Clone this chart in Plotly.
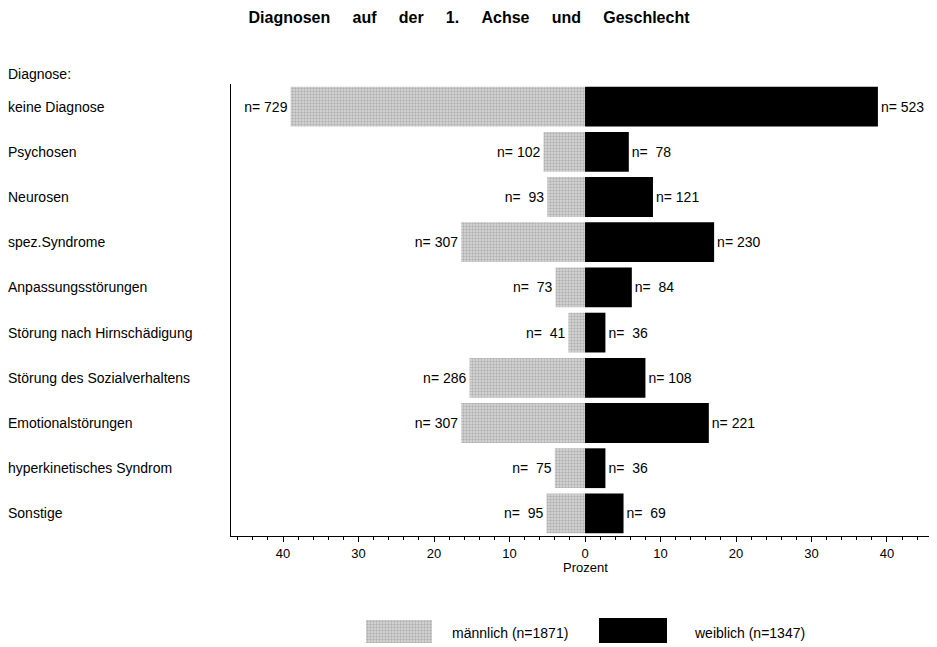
import plotly.graph_objects as go

# ---- data ----
categories = [
    "keine Diagnose", "Psychosen", "Neurosen", "spez.Syndrome",
    "Anpassungsstörungen", "Störung nach Hirnschädigung",
    "Störung des Sozialverhaltens", "Emotionalstörungen",
    "hyperkinetisches Syndrom", "Sonstige",
]
male_n = [729, 102, 93, 307, 73, 41, 286, 307, 75, 95]
female_n = [523, 78, 121, 230, 84, 36, 108, 221, 36, 69]
male_pct = [39.0, 5.5, 5.0, 16.4, 3.9, 2.2, 15.3, 16.4, 4.0, 5.1]
female_pct = [38.8, 5.8, 9.0, 17.1, 6.2, 2.7, 8.0, 16.4, 2.7, 5.1]
male_total = 1871
female_total = 1347
tick_values = [-40, -30, -20, -10, 0, 10, 20, 30, 40]
tick_labels = ["40", "30", "20", "10", "0", "10", "20", "30", "40"]

# page coordinates of the reference (the browser adds an 8px body margin)
OFF = 8
W, H = 937 - OFF, 647 - OFF
L, R, T = 231 - OFF, 930 - OFF, 84 - OFF
PLOT_BOTTOM = 536 - OFF
paper_w = R - L
paper_h = H - T


def px_x(p):
    return (p - OFF - L) / paper_w


def px_y(p):
    return (H - (p - OFF)) / paper_h


FONT = "Liberation Sans, Arial, sans-serif"
male_pattern = dict(shape=".", fgcolor="#8a8a8a", bgcolor="#d9d9d9",
                    size=3, solidity=0.5)


def fmt(n):
    return ("n=" + f"{n:>4}").replace(" ", "\u00a0")


fig = go.Figure()
fig.add_trace(go.Bar(
    y=categories, x=[-v for v in male_pct], orientation="h",
    marker=dict(color="#d9d9d9", pattern=male_pattern, line=dict(width=0)),
    text=[fmt(n) for n in male_n], textposition="outside",
    textfont=dict(size=14, color="black", family=FONT),
    constraintext="none", cliponaxis=False, showlegend=False,
    hoverinfo="skip",
))
fig.add_trace(go.Bar(
    y=categories, x=female_pct, orientation="h",
    marker=dict(color="black", line=dict(width=0)),
    text=[fmt(n) for n in female_n], textposition="outside",
    textfont=dict(size=14, color="black", family=FONT),
    constraintext="none", cliponaxis=False, showlegend=False,
    hoverinfo="skip",
))

# legend swatch (pattern) on a small helper axis
fig.add_trace(go.Bar(
    x=[1], y=[0], orientation="h", width=1, xaxis="x2", yaxis="y2",
    marker=dict(color="#d9d9d9", pattern=male_pattern, line=dict(width=0)),
    showlegend=False, hoverinfo="skip",
))

annotations = []
for c in categories:
    annotations.append(dict(
        x=px_x(6), xref="paper", y=c, yref="y", text=c, showarrow=False,
        xanchor="left", yanchor="middle",
        font=dict(size=14, color="black", family=FONT)))
annotations.append(dict(
    x=px_x(6), xref="paper", y=px_y(74), yref="paper", text="Diagnose:",
    showarrow=False, xanchor="left", yanchor="middle",
    font=dict(size=14, color="black", family=FONT)))
annotations.append(dict(
    x=px_x(585), xref="paper", y=px_y(567), yref="paper", text="Prozent",
    showarrow=False, xanchor="center", yanchor="middle",
    font=dict(size=13, color="black", family=FONT)))
annotations.append(dict(
    x=px_x(450), xref="paper", y=px_y(633), yref="paper",
    text=f"männlich (n={male_total})", showarrow=False, xanchor="left",
    yanchor="middle", font=dict(size=14, color="black", family=FONT)))
annotations.append(dict(
    x=px_x(692), xref="paper", y=px_y(633), yref="paper",
    text=f"weiblich (n={female_total})", showarrow=False, xanchor="left",
    yanchor="middle", font=dict(size=14, color="black", family=FONT)))

title_text = "\u00a0\u00a0\u00a0\u00a0\u00a0".join(
    "Diagnosen auf der 1. Achse und Geschlecht".split(" "))

fig.update_layout(
    width=W, height=H,
    margin=dict(l=L, r=W - R, t=T, b=0),
    paper_bgcolor="white", plot_bgcolor="white",
    barmode="overlay", bargap=0.12,
    font=dict(family=FONT, color="black"),
    title=dict(text="<b>" + title_text + "</b>", x=(469 - OFF) / W,
               xref="container", xanchor="center", y=1 - (17 - OFF) / H,
               yref="container", yanchor="middle",
               font=dict(size=16, color="black")),
    xaxis=dict(
        range=[-46.9, 45.7], tickvals=tick_values, ticktext=tick_labels,
        showgrid=False, zeroline=False,
        showline=True, linecolor="black", linewidth=1,
        ticks="outside", ticklen=5, tickcolor="black",
        minor=dict(dtick=2, tick0=0, ticks="outside", ticklen=3,
                   tickcolor="black", showgrid=False),
        tickfont=dict(size=13, color="black"), anchor="y",
    ),
    yaxis=dict(
        domain=[px_y(PLOT_BOTTOM + OFF), 1], autorange="reversed",
        showticklabels=False, showgrid=False, ticks="",
        showline=True, linecolor="black", linewidth=1, anchor="x",
    ),
    xaxis2=dict(domain=[px_x(366), px_x(432)], range=[0, 1], visible=False,
                anchor="y2", fixedrange=True),
    yaxis2=dict(domain=[px_y(643), px_y(620)], range=[-0.5, 0.5],
                visible=False, anchor="x2", fixedrange=True),
    shapes=[dict(type="rect", xref="paper", yref="paper",
                 x0=px_x(599), x1=px_x(667), y0=px_y(643), y1=px_y(618),
                 fillcolor="black", line=dict(width=0))],
    annotations=annotations,
)

fig.write_html("out.html")
